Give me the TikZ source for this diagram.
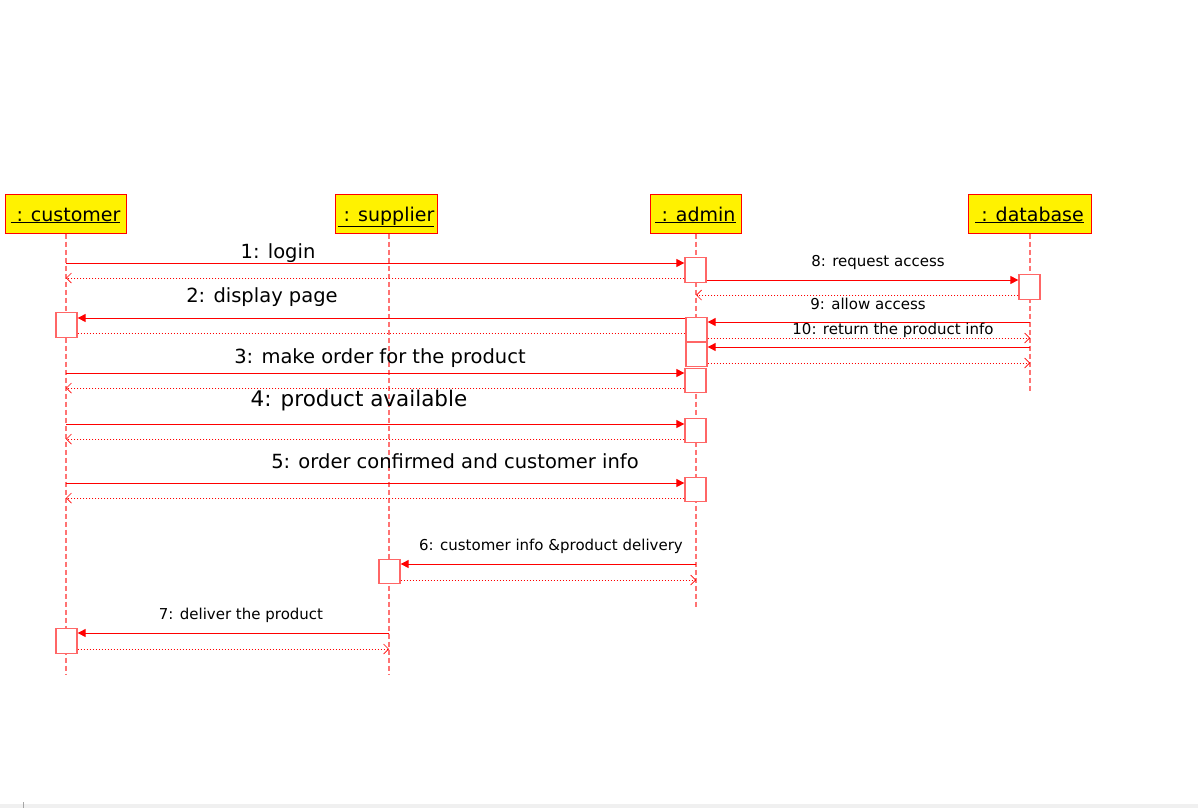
\documentclass[tikz,border=0pt]{standalone}
\usepackage{fontspec}
\setmainfont{DejaVu Sans}
\usetikzlibrary{arrows.meta}
\tikzset{
  hdr/.style={draw=red, line width=1pt, fill=yellow, inner sep=0pt, minimum height=39pt, text height=17pt, text depth=2pt, font=\fontsize{19}{22}\selectfont},
  life/.style={draw=red!55, line width=1.6pt, dash pattern=on 5pt off 3pt},
  act/.style={draw=red!60, line width=1.3pt, fill=white, inner sep=0pt, minimum width=21pt, minimum height=24.5pt},
  msg/.style={draw=red, line width=1pt, -{Triangle[length=8pt,width=8pt]}},
  ret/.style={draw=red, line width=0.9pt, dash pattern=on 1pt off 2pt, -{Straight Barb[length=5pt,width=10pt,line width=0.7pt]}},
  retn/.style={draw=red, line width=0.9pt, dash pattern=on 1pt off 2pt},
  big/.style={inner sep=0pt, font=\fontsize{19.5}{22}\selectfont},
  huge/.style={inner sep=0pt, font=\fontsize{21.5}{24}\selectfont},
  small/.style={inner sep=0pt, font=\fontsize{15}{18}\selectfont},
}
\begin{document}
\begin{tikzpicture}[x=1pt,y=-1pt]
\useasboundingbox (0,0) rectangle (1198,808);
\fill[gray!12] (0,803.5) rectangle (1198,808);
\draw[gray!70, line width=1pt] (23,802) -- (23,808);

% headers
\node[hdr, minimum width=121pt] (hc) at (65.5,213.5) {\underline{\ : customer}};
\node[hdr, minimum width=102pt] (hs) at (386,213.5) {\underline{\ : supplier}};
\node[hdr, minimum width=91pt] (ha) at (695.5,213.5) {\underline{\ : admin}};
\node[hdr, minimum width=123pt] (hd) at (1029.5,213.5) {\underline{\ : database}};

% lifeline ends
\coordinate (ec) at (66,675);
\coordinate (es) at (389,675);
\coordinate (ea) at (696,607);
\coordinate (ed) at (1030,392);
\draw[life] (hc.south -| ec) -- (ec);
\draw[life] (hs.south -| es) -- (es);
\draw[life] (ha.south -| ea) -- (ea);
\draw[life] (hd.south -| ed) -- (ed);

% activation boxes
\node[act] (a1) at (695.5,270) {};
\node[act] (d1) at (1029.5,287) {};
\node[act] (a2) at (696.5,329.5) {};
\node[act] (a3) at (696.5,354.5) {};
\node[act] (c1) at (66.5,325) {};
\node[act] (a4) at (695.5,380.5) {};
\node[act] (a5) at (695.5,430.5) {};
\node[act] (a6) at (695.5,489.5) {};
\node[act] (s1) at (389.5,571.5) {};
\node[act] (c2) at (66.5,641) {};

% lifeline coordinates for message ends
\coordinate (m1) at (66,263);
\coordinate (r1) at (66,278);
\coordinate (r8) at (696,295);
\coordinate (m9) at (1030,322);
\coordinate (r9) at (1030,338);
\coordinate (m10) at (1030,347);
\coordinate (r10) at (1030,363);
\coordinate (m3) at (66,373);
\coordinate (r3) at (66,388);
\coordinate (m4) at (66,424);
\coordinate (r4) at (66,439);
\coordinate (m5) at (66,483);
\coordinate (r5) at (66,498);
\coordinate (m6) at (696,564);
\coordinate (r6) at (696,580);
\coordinate (m7) at (389,633);
\coordinate (r7) at (389,649);

% messages
\draw[msg] (m1) -- (a1.west |- m1);
\draw[ret] (a1.west |- r1) -- (r1);
\draw[msg] (a1.east |- 0,280) -- (d1.west |- 0,280);
\draw[ret] (d1.west |- r8) -- (r8);
\draw[msg] (a2.west |- 0,318) -- (c1.east |- 0,318);
\draw[retn] (c1.east |- 0,333) -- (a2.west |- 0,333);
\draw[msg] (m9) -- (a2.east |- m9);
\draw[ret] (a2.east |- r9) -- (r9);
\draw[msg] (m10) -- (a3.east |- m10);
\draw[ret] (a3.east |- r10) -- (r10);
\draw[msg] (m3) -- (a4.west |- m3);
\draw[ret] (a4.west |- r3) -- (r3);
\draw[msg] (m4) -- (a5.west |- m4);
\draw[ret] (a5.west |- r4) -- (r4);
\draw[msg] (m5) -- (a6.west |- m5);
\draw[ret] (a6.west |- r5) -- (r5);
\draw[msg] (m6) -- (s1.east |- m6);
\draw[ret] (s1.east |- r6) -- (r6);
\draw[msg] (m7) -- (c2.east |- m7);
\draw[ret] (c2.east |- r7) -- (r7);

% labels
\node[big] (l1) at (278,253) {1: login};
\node[big] (l2) at (262,297) {2: display page};
\node[big] (l3) at (380,358) {3: make order for the product};
\node[huge] (l4) at (359,401) {4: product available};
\node[big] (l5) at (455,461) {5: order confirmed and customer info};
\node[small] (l6) at (551,546) {6: customer info \&product delivery};
\node[small] (l7) at (241,615) {7: deliver the product};
\node[small] (l8) at (878,262) {8: request access};
\node[small] (l9) at (868,304) {9: allow access};
\node[small] (l10) at (893,330) {10: return the product info};
\end{tikzpicture}
\end{document}
